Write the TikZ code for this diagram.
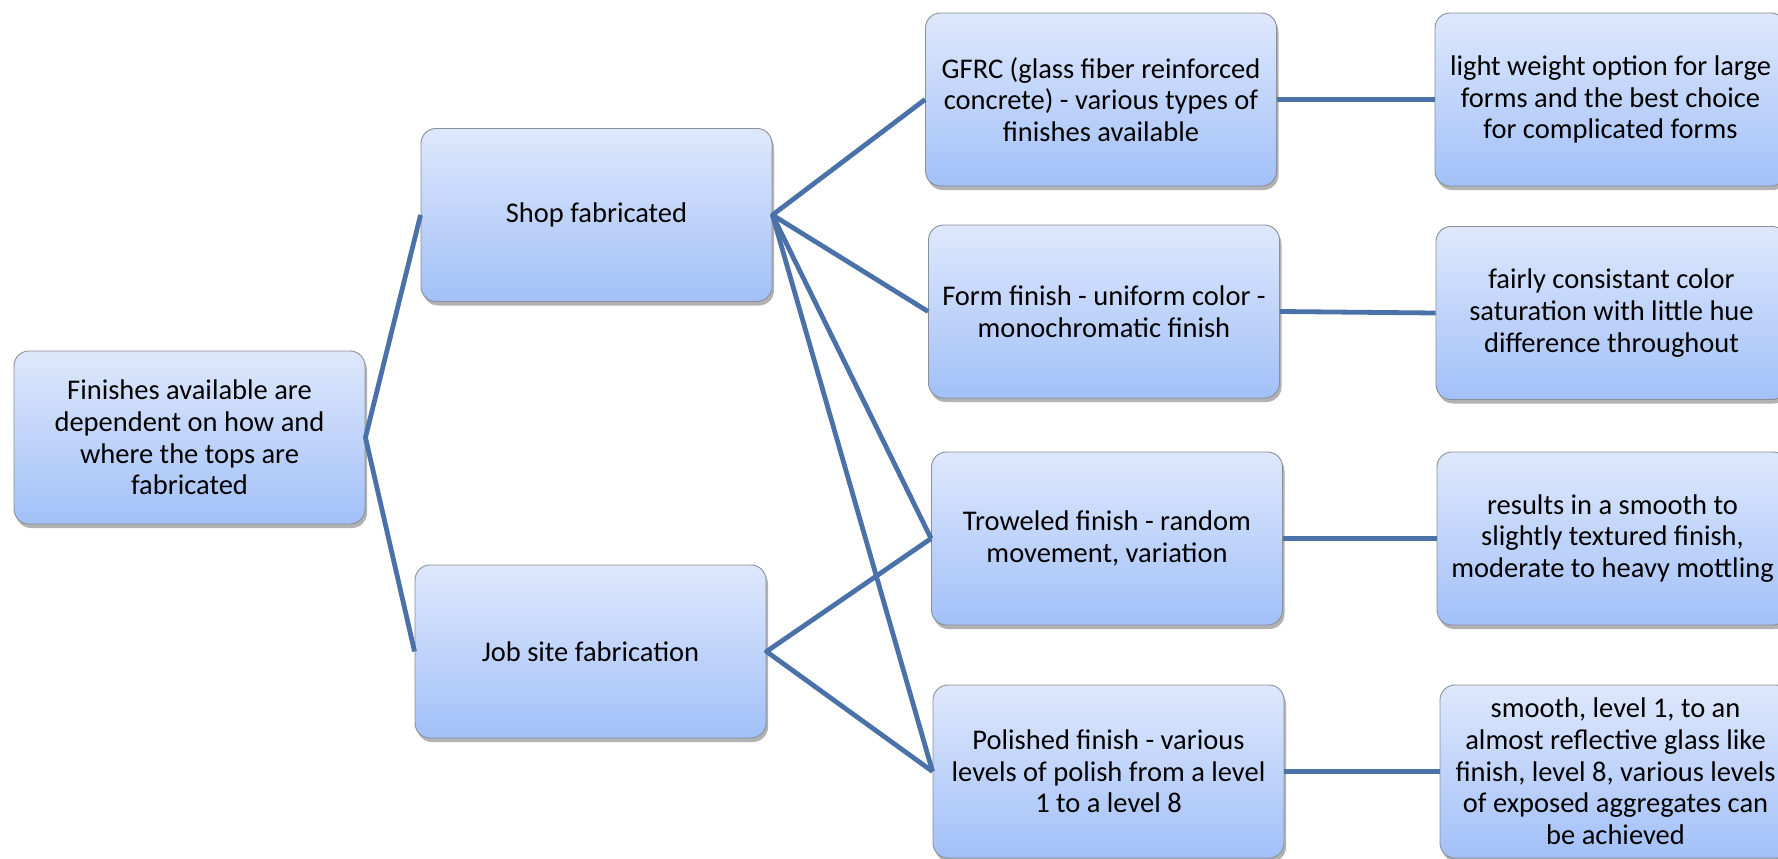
\documentclass[tikz,border=0pt]{standalone}
\usepackage{fontspec}
\setmainfont{Carlito}
\usetikzlibrary{shadows}
\definecolor{ln}{HTML}{4A72A8}
\definecolor{boxtop}{HTML}{DEE8FC}
\definecolor{boxbot}{HTML}{A2C0F8}
\definecolor{boxedge}{HTML}{8A8F98}
\begin{document}
\begin{tikzpicture}[x=1pt,y=-1pt,
  box/.style={rectangle, rounded corners=15pt, draw=boxedge, line width=0.9pt,
    top color=boxtop, bottom color=boxbot, minimum width=351pt, minimum height=173pt,
    align=center, inner sep=0pt, font=\fontsize{28.5}{31.7}\selectfont,
    drop shadow={shadow xshift=2pt, shadow yshift=-4pt, opacity=0.3, fill=black}},
  conn/.style={draw=ln, line width=4.8pt, line join=round}]
\fill[white] (0,0) rectangle (1778,859);
\clip (0,0) rectangle (1778,859);
\node[box] (root) at (189.5,437.5) {Finishes available are\\dependent on how and\\where the tops are\\fabricated};
\node[box] (shop) at (596.5,215) {Shop fabricated};
\node[box] (job) at (590.5,651.5) {Job site fabrication};
\node[box] (gfrc) at (1101,99.5) {GFRC (glass fiber reinforced\\concrete) - various types of\\finishes available};
\node[box] (form) at (1104,311.5) {Form finish - uniform color -\\monochromatic finish};
\node[box] (trow) at (1107,538.5) {Troweled finish - random\\movement, variation};
\node[box] (pol) at (1108.5,771.5) {Polished finish - various\\levels of polish from a level\\1 to a level 8};
\node[box] (r1) at (1610.5,99.5) {light weight option for large\\forms and the best choice\\for complicated forms};
\node[box] (r2) at (1611.5,313) {fairly consistant color\\saturation with little hue\\difference throughout};
\node[box] (r3) at (1612.5,538.5) {results in a smooth to\\slightly textured finish,\\moderate to heavy mottling};
\node[box] (r4) at (1615.5,771.5) {smooth, level 1, to an\\almost reflective glass like\\finish, level 8, various levels\\of exposed aggregates can\\be achieved};
\draw[conn] (shop.west) -- (root.east) -- (job.west);
\draw[conn] (gfrc.west) -- (shop.east) -- (form.west);
\draw[conn] (shop.east) -- (trow.west);
\draw[conn] (shop.east) -- (pol.west);
\draw[conn] (trow.west) -- (job.east) -- (pol.west);
\draw[conn] (gfrc.east) -- (r1.west);
\draw[conn] (form.east) -- (r2.west);
\draw[conn] (trow.east) -- (r3.west);
\draw[conn] (pol.east) -- (r4.west);
\end{tikzpicture}
\end{document}
